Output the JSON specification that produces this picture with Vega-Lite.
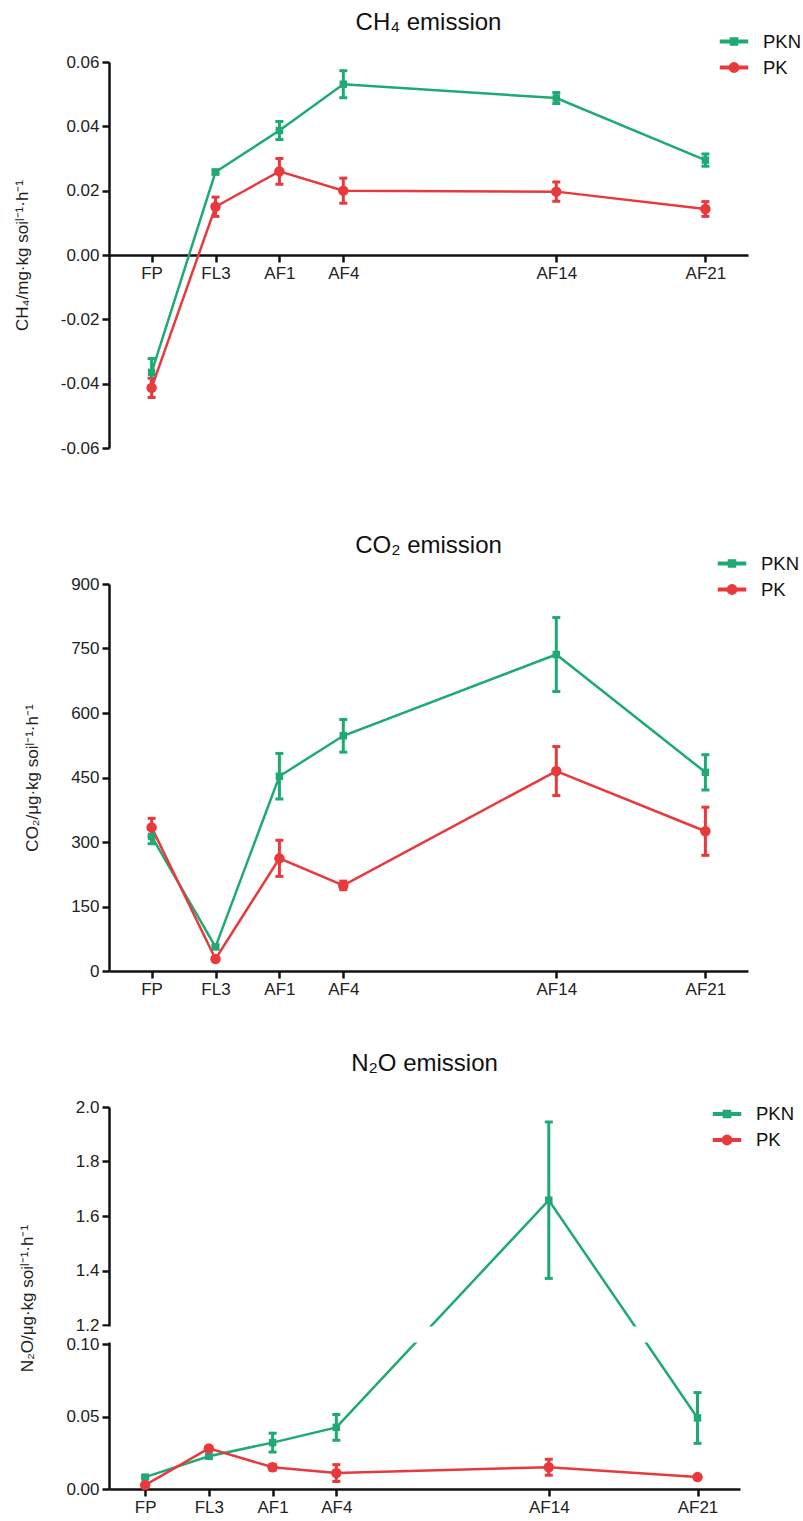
{
  "$schema": "https://vega.github.io/schema/vega-lite/v6.json",
  "background": "white",
  "padding": {"left": 13, "top": 10, "right": 0, "bottom": 0},
  "datasets": {
    "ch4": [
      {"stage": "FP", "day": 0, "series": "PKN", "mean": -0.0365, "err": 0.0043},
      {"stage": "FL3", "day": 3, "series": "PKN", "mean": 0.0258, "err": 0.0006},
      {"stage": "AF1", "day": 6, "series": "PKN", "mean": 0.0387, "err": 0.0028},
      {"stage": "AF4", "day": 9, "series": "PKN", "mean": 0.0531, "err": 0.0042},
      {"stage": "AF14", "day": 19, "series": "PKN", "mean": 0.0488, "err": 0.0017},
      {"stage": "AF21", "day": 26, "series": "PKN", "mean": 0.0295, "err": 0.0019},
      {"stage": "FP", "day": 0, "series": "PK", "mean": -0.0413, "err": 0.003},
      {"stage": "FL3", "day": 3, "series": "PK", "mean": 0.015, "err": 0.003},
      {"stage": "AF1", "day": 6, "series": "PK", "mean": 0.026, "err": 0.004},
      {"stage": "AF4", "day": 9, "series": "PK", "mean": 0.02, "err": 0.0039},
      {"stage": "AF14", "day": 19, "series": "PK", "mean": 0.0197, "err": 0.003},
      {"stage": "AF21", "day": 26, "series": "PK", "mean": 0.0143, "err": 0.0023}
    ],
    "co2": [
      {"stage": "FP", "day": 0, "series": "PKN", "mean": 313, "err": 17},
      {"stage": "FL3", "day": 3, "series": "PKN", "mean": 56, "err": 4},
      {"stage": "AF1", "day": 6, "series": "PKN", "mean": 453, "err": 53},
      {"stage": "AF4", "day": 9, "series": "PKN", "mean": 547, "err": 38},
      {"stage": "AF14", "day": 19, "series": "PKN", "mean": 736, "err": 86},
      {"stage": "AF21", "day": 26, "series": "PKN", "mean": 462, "err": 41},
      {"stage": "FP", "day": 0, "series": "PK", "mean": 334, "err": 21},
      {"stage": "FL3", "day": 3, "series": "PK", "mean": 28, "err": 3},
      {"stage": "AF1", "day": 6, "series": "PK", "mean": 262, "err": 42},
      {"stage": "AF4", "day": 9, "series": "PK", "mean": 199, "err": 10},
      {"stage": "AF14", "day": 19, "series": "PK", "mean": 465, "err": 57},
      {"stage": "AF21", "day": 26, "series": "PK", "mean": 325, "err": 56}
    ],
    "n2o": [
      {"stage": "FP", "day": 0, "series": "PKN", "mean": 0.0082, "err": 0.001},
      {"stage": "FL3", "day": 3, "series": "PKN", "mean": 0.0226, "err": 0.0015},
      {"stage": "AF1", "day": 6, "series": "PKN", "mean": 0.032, "err": 0.0065},
      {"stage": "AF4", "day": 9, "series": "PKN", "mean": 0.0425, "err": 0.0089},
      {"stage": "AF14", "day": 19, "series": "PKN", "mean": 1.658, "err": 0.287},
      {"stage": "AF21", "day": 26, "series": "PKN", "mean": 0.049, "err": 0.0175},
      {"stage": "FP", "day": 0, "series": "PK", "mean": 0.0027, "err": 0.001},
      {"stage": "FL3", "day": 3, "series": "PK", "mean": 0.028, "err": 0.0012},
      {"stage": "AF1", "day": 6, "series": "PK", "mean": 0.015, "err": 0.002},
      {"stage": "AF4", "day": 9, "series": "PK", "mean": 0.011, "err": 0.0058},
      {"stage": "AF14", "day": 19, "series": "PK", "mean": 0.015, "err": 0.0055},
      {"stage": "AF21", "day": 26, "series": "PK", "mean": 0.0082, "err": 0.0012}
    ],
    "axisbreak": [
      {"x1": -2.2, "x2": 28.2, "y1": 0.18, "y2": 1.12}
    ]
  },
  "config": {
    "view": {"stroke": null},
    "font": "Liberation Sans",
    "axis": {
      "grid": false,
      "domainColor": "#111",
      "domainWidth": 2.5,
      "tickColor": "#111",
      "tickWidth": 2.5,
      "tickSize": 7,
      "labelFont": "Liberation Sans",
      "labelFontSize": 17,
      "labelColor": "#222",
      "labelPadding": 3,
      "titleFont": "Liberation Sans",
      "titleFontSize": 17,
      "titleFontWeight": "normal",
      "titleColor": "#222",
      "titlePadding": 29
    },
    "legend": {
      "labelFont": "Liberation Sans",
      "labelFontSize": 18.5,
      "labelColor": "#111",
      "padding": 0
    },
    "title": {
      "font": "Liberation Sans",
      "fontSize": 24,
      "fontWeight": "normal",
      "color": "#111",
      "anchor": "middle",
      "frame": "group"
    }
  },
  "vconcat": [
    {
      "data": {"name": "ch4"},
      "width": 639,
      "height": 386,
      "title": {"text": "CH₄ emission", "offset": -4},
      "encoding": {
        "x": {
          "field": "day", "type": "quantitative",
          "scale": {"domain": [-2, 28], "nice": false, "zero": false},
          "axis": {
            "title": null, "values": [0, 3, 6, 9, 19, 26], "offset": -193,
            "labelExpr": "datum.value == 0 ? 'FP' : datum.value == 3 ? 'FL3' : datum.value == 6 ? 'AF1' : datum.value == 9 ? 'AF4' : datum.value == 19 ? 'AF14' : 'AF21'"
          }
        },
        "y": {
          "field": "mean", "type": "quantitative",
          "scale": {"domain": [-0.06, 0.06], "nice": false, "zero": false},
          "axis": {
            "title": "CH₄/mg·kg soiˡ⁻¹·h⁻¹",
            "values": [-0.06, -0.04, -0.02, 0, 0.02, 0.04, 0.06],
            "labelExpr": "replace(format(datum.value, '.2f'), '−', '-')"
          }
        },
        "color": {
          "field": "series", "type": "nominal",
          "scale": {"domain": ["PKN", "PK"], "range": ["#1faa74", "#e83a3c"]},
          "legend": {
            "title": null, "orient": "none", "legendX": 614, "legendY": -31.5,
            "symbolSize": 400, "rowPadding": 5, "labelOffset": 18,
            "encode": {"symbols": {"update": {
              "shape": {"signal": "datum.value === 'PKN' ? 'M-1.35,-0.125H-0.3V0.125H-1.35ZM0.3,-0.125H1.35V0.125H0.3ZM-0.35,-0.35H0.35V0.35H-0.35Z' : 'M-1.35,-0.125H-0.4V0.125H-1.35ZM0.4,-0.125H1.35V0.125H0.4ZM-0.47,0A0.47,0.47,0,1,1,0.47,0A0.47,0.47,0,1,1,-0.47,0Z'"},
              "fill": {"signal": "datum.value === 'PKN' ? '#1faa74' : '#e83a3c'"},
              "stroke": {"value": "transparent"},
              "opacity": {"value": 1}
            }}}
          }
        }
      },
      "layer": [
        {"mark": {"type": "line", "strokeWidth": 2.5}},
        {"mark": {"type": "errorbar", "ticks": true, "thickness": 3, "size": 8, "opacity": 1}, "encoding": {"yError": {"field": "err"}}},
        {"transform": [{"filter": "datum.series === 'PKN'"}], "mark": {"type": "point", "shape": "square", "filled": true, "size": 56, "opacity": 1}},
        {"transform": [{"filter": "datum.series === 'PK'"}], "mark": {"type": "point", "shape": "circle", "filled": true, "size": 110, "opacity": 1}}
      ]
    },
    {
      "data": {"name": "co2"},
      "width": 639,
      "height": 387,
      "title": {"text": "CO₂ emission", "offset": -5},
      "encoding": {
        "x": {
          "field": "day", "type": "quantitative",
          "scale": {"domain": [-2, 28], "nice": false, "zero": false},
          "axis": {
            "title": null, "values": [0, 3, 6, 9, 19, 26],
            "labelExpr": "datum.value == 0 ? 'FP' : datum.value == 3 ? 'FL3' : datum.value == 6 ? 'AF1' : datum.value == 9 ? 'AF4' : datum.value == 19 ? 'AF14' : 'AF21'"
          }
        },
        "y": {
          "field": "mean", "type": "quantitative",
          "scale": {"domain": [0, 900], "nice": false},
          "axis": {
            "title": "CO₂/μg·kg soiˡ⁻¹·h⁻¹",
            "values": [0, 150, 300, 450, 600, 750, 900],
            "format": "d"
          }
        },
        "color": {
          "field": "series", "type": "nominal",
          "scale": {"domain": ["PKN", "PK"], "range": ["#1faa74", "#e83a3c"]},
          "legend": {
            "title": null, "orient": "none", "legendX": 612, "legendY": -31.5,
            "symbolSize": 400, "rowPadding": 5, "labelOffset": 18,
            "encode": {"symbols": {"update": {
              "shape": {"signal": "datum.value === 'PKN' ? 'M-1.35,-0.125H-0.3V0.125H-1.35ZM0.3,-0.125H1.35V0.125H0.3ZM-0.35,-0.35H0.35V0.35H-0.35Z' : 'M-1.35,-0.125H-0.4V0.125H-1.35ZM0.4,-0.125H1.35V0.125H0.4ZM-0.47,0A0.47,0.47,0,1,1,0.47,0A0.47,0.47,0,1,1,-0.47,0Z'"},
              "fill": {"signal": "datum.value === 'PKN' ? '#1faa74' : '#e83a3c'"},
              "stroke": {"value": "transparent"},
              "opacity": {"value": 1}
            }}}
          }
        }
      },
      "layer": [
        {"mark": {"type": "line", "strokeWidth": 2.5}},
        {"mark": {"type": "errorbar", "ticks": true, "thickness": 3, "size": 8, "opacity": 1}, "encoding": {"yError": {"field": "err"}}},
        {"transform": [{"filter": "datum.series === 'PKN'"}], "mark": {"type": "point", "shape": "square", "filled": true, "size": 56, "opacity": 1}},
        {"transform": [{"filter": "datum.series === 'PK'"}], "mark": {"type": "point", "shape": "circle", "filled": true, "size": 110, "opacity": 1}}
      ]
    },
    {
      "width": 631,
      "height": 382,
      "title": {"text": "N₂O emission", "offset": 22},
      "layer": [
        {
          "data": {"name": "n2o"},
          "encoding": {
            "x": {
              "field": "day", "type": "quantitative",
              "scale": {"domain": [-1.7, 28], "nice": false, "zero": false},
              "axis": {
                "title": null, "values": [0, 3, 6, 9, 19, 26],
                "labelExpr": "datum.value == 0 ? 'FP' : datum.value == 3 ? 'FL3' : datum.value == 6 ? 'AF1' : datum.value == 9 ? 'AF4' : datum.value == 19 ? 'AF14' : 'AF21'"
              }
            },
            "y": {
              "field": "mean", "type": "quantitative",
              "scale": {"domain": [0, 0.1, 1.2, 2.0], "range": [382, 237, 218, 0], "nice": false, "zero": false},
              "axis": {
                "title": "N₂O/μg·kg soiˡ⁻¹·h⁻¹",
                "values": [0, 0.05, 0.1, 1.2, 1.4, 1.6, 1.8, 2.0],
                "labelExpr": "datum.value < 1 ? format(datum.value, '.2f') : format(datum.value, '.1f')"
              }
            },
            "color": {
              "field": "series", "type": "nominal",
              "scale": {"domain": ["PKN", "PK"], "range": ["#1faa74", "#e83a3c"]},
              "legend": {
                "title": null, "orient": "none", "legendX": 607, "legendY": -4,
                "symbolSize": 400, "rowPadding": 5, "labelOffset": 18,
                "encode": {"symbols": {"update": {
                  "shape": {"signal": "datum.value === 'PKN' ? 'M-1.35,-0.125H-0.3V0.125H-1.35ZM0.3,-0.125H1.35V0.125H0.3ZM-0.35,-0.35H0.35V0.35H-0.35Z' : 'M-1.35,-0.125H-0.4V0.125H-1.35ZM0.4,-0.125H1.35V0.125H0.4ZM-0.47,0A0.47,0.47,0,1,1,0.47,0A0.47,0.47,0,1,1,-0.47,0Z'"},
                  "fill": {"signal": "datum.value === 'PKN' ? '#1faa74' : '#e83a3c'"},
                  "stroke": {"value": "transparent"},
                  "opacity": {"value": 1}
                }}}
              }
            }
          },
          "layer": [
            {"mark": {"type": "line", "strokeWidth": 2.5}},
            {"mark": {"type": "errorbar", "ticks": true, "thickness": 3, "size": 8, "opacity": 1}, "encoding": {"yError": {"field": "err"}}},
            {"transform": [{"filter": "datum.series === 'PKN'"}], "mark": {"type": "point", "shape": "square", "filled": true, "size": 56, "opacity": 1}},
            {"transform": [{"filter": "datum.series === 'PK'"}], "mark": {"type": "point", "shape": "circle", "filled": true, "size": 110, "opacity": 1}}
          ]
        },
        {
          "data": {"name": "axisbreak"},
          "mark": {"type": "rect", "fill": "white", "stroke": null},
          "encoding": {
            "x": {"field": "x1", "type": "quantitative"},
            "x2": {"field": "x2"},
            "y": {"field": "y1", "type": "quantitative"},
            "y2": {"field": "y2"}
          }
        }
      ]
    }
  ],
  "spacing": 136,
  "bounds": "flush",
  "resolve": {
    "scale": {"color": "independent", "x": "independent", "y": "independent"},
    "legend": {"color": "independent"}
  }
}
